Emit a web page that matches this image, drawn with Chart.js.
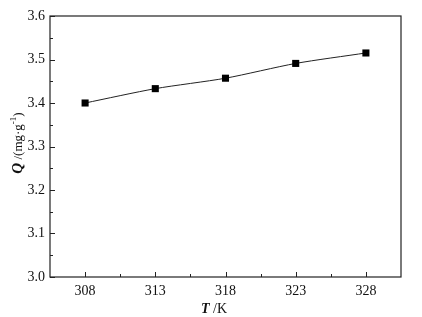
<!DOCTYPE html>
<html><head><meta charset="utf-8">
<script src="https://cdn.jsdelivr.net/npm/chart.js@4/dist/chart.umd.min.js"></script>
<style>html,body{margin:0;padding:0;background:#fff}#wrap{width:422px;height:317px}</style>
</head><body><div id="wrap"><canvas id="c" width="422" height="317"></canvas></div>
<script>
const temperatures = [308, 313, 318, 323, 328];
const capacity = [3.400, 3.433, 3.457, 3.491, 3.515];
const xTicks = [308, 313, 318, 323, 328];
const yTicks = [3.0, 3.1, 3.2, 3.3, 3.4, 3.5, 3.6];
const xTitleItalic = 'T', xTitleRest = ' /K';
const yTitleItalic = 'Q', yTitleRest = ' /(mg·g', yTitleSup = '-1', yTitleEnd = ')';

const FONT = '"Liberation Serif", "DejaVu Serif", serif';

const framePlugin = {
  id: 'frame',
  afterDraw(chart) {
    const {ctx, chartArea: a, scales: {x, y}} = chart;
    ctx.save();
    ctx.strokeStyle = '#222';
    ctx.lineWidth = 1.2;
    ctx.strokeRect(a.left, a.top, a.right - a.left, a.bottom - a.top);
    ctx.lineWidth = 1;
    xTicks.forEach(v => {
      const px = Math.round(x.getPixelForValue(v)) + 0.5;
      ctx.beginPath(); ctx.moveTo(px, a.bottom); ctx.lineTo(px, a.bottom - 5); ctx.stroke();
    });
    for (let i = 0; i < xTicks.length - 1; i++) {
      const v = (xTicks[i] + xTicks[i + 1]) / 2;
      const px = Math.round(x.getPixelForValue(v)) + 0.5;
      ctx.beginPath(); ctx.moveTo(px, a.bottom); ctx.lineTo(px, a.bottom - 3); ctx.stroke();
    }
    yTicks.forEach((v, i) => {
      const py = Math.round(y.getPixelForValue(v)) + 0.5;
      ctx.beginPath(); ctx.moveTo(a.left, py); ctx.lineTo(a.left + 5, py); ctx.stroke();
      if (i < yTicks.length - 1) {
        const m = (v + yTicks[i + 1]) / 2;
        const pm = Math.round(y.getPixelForValue(m)) + 0.5;
        ctx.beginPath(); ctx.moveTo(a.left, pm); ctx.lineTo(a.left + 3, pm); ctx.stroke();
      }
    });
    ctx.fillStyle = '#111';
    ctx.textBaseline = 'alphabetic';
    const fI = 'italic bold 14px ' + FONT, fN = '14px ' + FONT;
    ctx.font = fI; const w1 = ctx.measureText(xTitleItalic).width;
    ctx.font = fN; const w2 = ctx.measureText(xTitleRest).width;
    let sx = 214 - (w1 + w2) / 2;
    ctx.font = fI; ctx.fillText(xTitleItalic, sx, 313);
    ctx.font = fN; ctx.fillText(xTitleRest, sx + w1, 313);
    ctx.translate(22, 143);
    ctx.rotate(-Math.PI / 2);
    const fQ = 'italic bold 15px ' + FONT, fS = '9px ' + FONT, fY = '13px ' + FONT;
    ctx.font = fQ; const q1 = ctx.measureText(yTitleItalic).width;
    ctx.font = fY; const q2 = ctx.measureText(yTitleRest).width;
    ctx.font = fS; const q3 = ctx.measureText(yTitleSup).width;
    ctx.font = fY; const q4 = ctx.measureText(yTitleEnd).width;
    let tx = -(q1 + q2 + q3 + q4) / 2;
    ctx.font = fQ; ctx.fillText(yTitleItalic, tx, 0); tx += q1;
    ctx.font = fY; ctx.fillText(yTitleRest, tx, 0); tx += q2;
    ctx.font = fS; ctx.fillText(yTitleSup, tx, -6); tx += q3;
    ctx.font = fY; ctx.fillText(yTitleEnd, tx, 0);
    ctx.restore();
  }
};

new Chart(document.getElementById('c'), {
  type: 'scatter',
  data: {
    datasets: [{
      data: temperatures.map((t, i) => ({x: t, y: capacity[i]})),
      showLine: true,
      borderColor: '#222',
      borderWidth: 1,
      tension: 0.25,
      pointStyle: 'rect',
      pointRadius: 5,
      pointBackgroundColor: '#000',
      pointBorderColor: '#000',
      pointBorderWidth: 0
    }]
  },
  options: {
    responsive: false,
    animation: false,
    events: [],
    layout: {padding: {top: 16, right: 21, left: 0, bottom: 0}},
    plugins: {legend: {display: false}, tooltip: {enabled: false}},
    scales: {
      x: {
        type: 'linear', min: 305.5, max: 330.5,
        afterBuildTicks: s => { s.ticks = xTicks.map(v => ({value: v})); },
        afterFit: s => { s.height = 40; },
        grid: {display: false, drawTicks: false},
        border: {display: false},
        ticks: {font: {family: FONT, size: 14}, color: '#111', padding: 6, maxRotation: 0,
                callback: v => String(v)}
      },
      y: {
        type: 'linear', min: 3.0, max: 3.6,
        afterBuildTicks: s => { s.ticks = yTicks.map(v => ({value: v})); },
        afterFit: s => { s.width = 50; },
        grid: {display: false, drawTicks: false},
        border: {display: false},
        ticks: {font: {family: FONT, size: 14}, color: '#111', padding: 5,
                callback: v => v.toFixed(1)}
      }
    }
  },
  plugins: [framePlugin]
});
</script>
</body></html>
